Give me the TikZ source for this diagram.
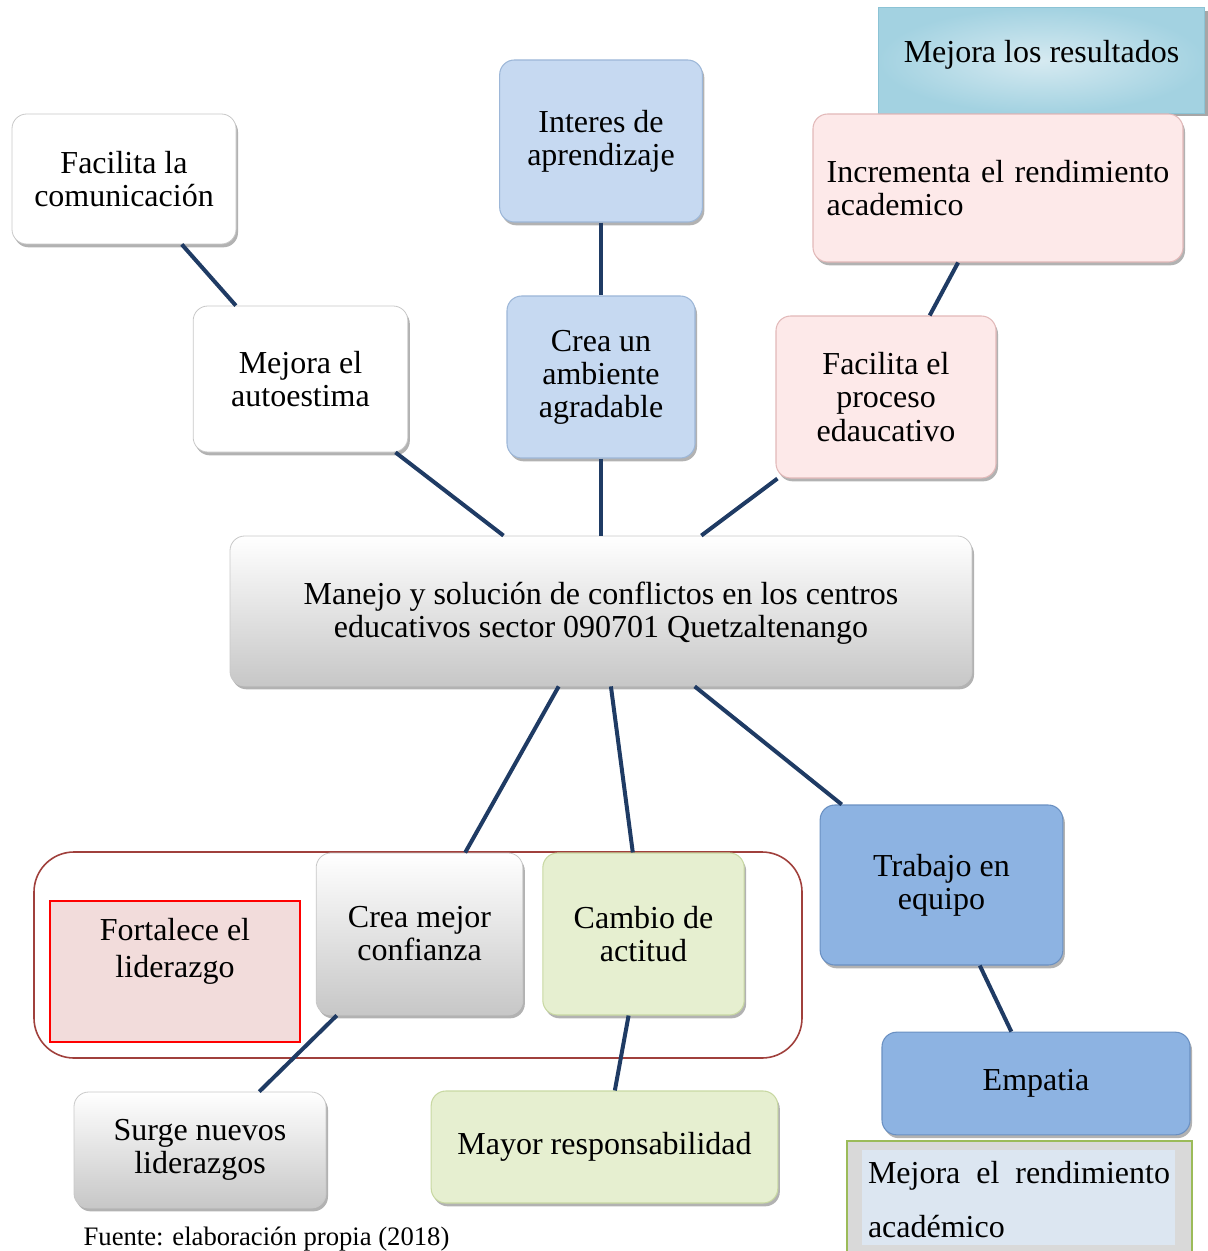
\documentclass[tikz,border=0pt]{standalone}
\usepackage{fontspec}
\setmainfont{Liberation Serif}
\usetikzlibrary{shadows}
\definecolor{navy}{HTML}{1F3B64}
\definecolor{lblue}{HTML}{C6D9F1}
\definecolor{lblueb}{HTML}{9DB7D8}
\definecolor{mblue}{HTML}{8DB3E2}
\definecolor{mblueb}{HTML}{6A90C2}
\definecolor{lpink}{HTML}{FDE9E9}
\definecolor{lpinkb}{HTML}{E2B9B9}
\definecolor{lgreen}{HTML}{E6EFD0}
\definecolor{lgreenb}{HTML}{C8D8A2}
\definecolor{fortfill}{HTML}{F2DCDB}
\definecolor{framec}{HTML}{A0403C}
\definecolor{resin}{HTML}{D6EAF1}
\definecolor{resout}{HTML}{A3D2E1}
\definecolor{resb}{HTML}{8CC3D5}
\definecolor{renout}{HTML}{D9D9D9}
\definecolor{renb}{HTML}{9BBB59}
\definecolor{renin}{HTML}{DCE6F1}
\definecolor{grayb}{HTML}{C8C8C8}
\begin{document}
\begin{tikzpicture}[x=0.75pt,y=-0.75pt,
  every node/.style={font=\fontsize{24}{24.8}\selectfont, align=center, inner sep=0pt},
  shad/.style={drop shadow={shadow xshift=1.5pt, shadow yshift=-2.5pt, fill=black, opacity=0.3}},
  rbox/.style={rounded corners=11pt, shad},
  whitebox/.style={rbox, draw=grayb, line width=0.6pt, fill=white},
  graybox/.style={rbox, draw=grayb, line width=0.6pt, top color=white, bottom color=black!22},
  bluebox/.style={rbox, draw=lblueb, line width=0.8pt, fill=lblue},
  dbluebox/.style={rbox, draw=mblueb, line width=0.8pt, fill=mblue},
  pinkbox/.style={rbox, draw=lpinkb, line width=0.8pt, fill=lpink},
  greenbox/.style={rbox, draw=lgreenb, line width=0.8pt, fill=lgreen},
  link/.style={draw=navy, line width=3pt}
]
\useasboundingbox (0,0) rectangle (1207,1251);

% top right
\node[draw=resb, line width=0.8pt, inner color=resin, outer color=resout,
      drop shadow={shadow xshift=2pt, shadow yshift=-2.5pt, fill=black, opacity=0.35},
      minimum width=245pt, minimum height=79pt] (res) at (1041.5,60.5)
  {\raisebox{4.5pt}[\height][\depth]{Mejora los resultados}};

% upper row
\node[whitebox, minimum width=168pt, minimum height=97.5pt] (com) at (124,179) {Facilita la\\comunicación};
\node[bluebox, minimum width=152pt, minimum height=121.5pt] (int) at (601,141) {Interes de\\aprendizaje};
\node[pinkbox, minimum width=277.5pt, minimum height=111pt, align=left] (inc) at (998,188)
  {\makebox[257pt][s]{Incrementa el rendimiento}\\academico};

% second row
\node[whitebox, minimum width=161pt, minimum height=109.5pt] (aut) at (300.5,379) {Mejora el\\autoestima};
\node[bluebox, minimum width=141pt, minimum height=121.5pt] (amb) at (601,377) {Crea un\\ambiente\\agradable};
\node[pinkbox, minimum width=165pt, minimum height=121.5pt] (pro) at (886,397) {Facilita el\\proceso\\edaucativo};

% centre
\node[graybox, minimum width=556.5pt, minimum height=112.5pt] (cen) at (601,611)
  {\raisebox{-2.5pt}[\height][\depth]{\begin{tabular}{@{}c@{}}Manejo y solución de conflictos en los centros\\educativos sector 090701 Quetzaltenango\end{tabular}}};

% frame
\node[draw=framec, line width=1.2pt, rounded corners=30pt, minimum width=576pt, minimum height=154.5pt] (frame) at (418,955) {};
\node[draw=red, line width=1pt, fill=fortfill, minimum width=187.5pt, minimum height=105.75pt] (fort) at (175,971.5) {};
\node[font=\fontsize{24}{27.75}\selectfont] (fortt) at (175,951) {Fortalece el\\liderazgo};

\node[graybox, minimum width=155pt, minimum height=121.5pt] (con) at (419.5,934) {Crea mejor\\confianza};
\node[greenbox, minimum width=151pt, minimum height=121.5pt] (cam) at (643.5,934) {Cambio de\\actitud};
\node[dbluebox, minimum width=182pt, minimum height=120pt] (tra) at (941.5,885) {Trabajo en\\equipo};

% bottom row
\node[dbluebox, minimum width=231pt, minimum height=77pt] (emp) at (1036,1083.5) {Empatia};
\node[graybox, minimum width=189pt, minimum height=87pt] (sur) at (200,1150) {Surge nuevos\\liderazgos};
\node[greenbox, minimum width=260pt, minimum height=84pt] (may) at (604.5,1147) {Mayor responsabilidad};

\node[draw=renb, line width=1pt, fill=renout, minimum width=258.75pt, minimum height=90.75pt] (ren) at (1019.5,1201.5) {};
\fill[renin] (862,1150) rectangle (1175,1245);
\node[font=\fontsize{24}{41}\selectfont, align=left] (rent) at (1019,1199.5)
  {\makebox[226.5pt][s]{Mejora el rendimiento}\\académico};

\node[font=\fontsize{20}{22}\selectfont] (src) at (266.5,1239) {Fuente: elaboración propia (2018)};

% connectors
\draw[link] (com) -- (aut);
\draw[link] (int) -- (amb);
\draw[link] (inc) -- (pro);
\draw[link] (aut) -- (cen);
\draw[link] (amb) -- (cen);
\draw[link] (pro) -- (cen);
\draw[link] (cen) -- (con);
\draw[link] (cen) -- (cam);
\draw[link] (cen) -- (tra);
\draw[link] (con) -- (sur);
\draw[link] (cam) -- (may);
\draw[link] (tra) -- (emp);
\end{tikzpicture}
\end{document}
